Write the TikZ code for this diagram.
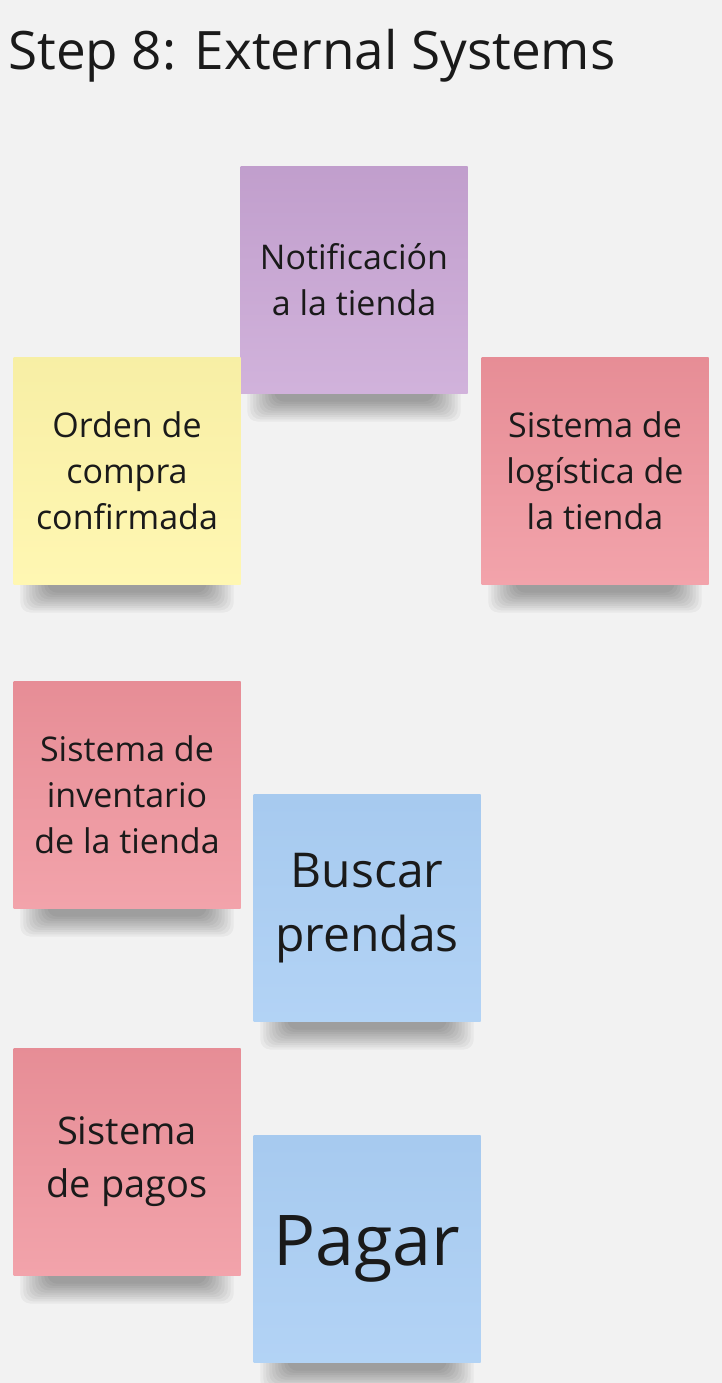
\documentclass[tikz,border=0pt]{standalone}
\usepackage{fontspec}
\setmainfont{Open Sans}
\usetikzlibrary{backgrounds}

\definecolor{paper}{HTML}{F2F2F2}
\definecolor{ink}{HTML}{1A1A1A}
\definecolor{lilac}{HTML}{C9A5D5}
\definecolor{lemon}{HTML}{FFF6AA}
\definecolor{rose}{HTML}{F0939C}
\definecolor{sky}{HTML}{AACEF4}

\begin{document}
\begin{tikzpicture}[x = 1pt, y = -1pt,
                      note/.style = {rectangle, minimum width = 227pt, minimum height = 227pt,
                                     inner sep = 0pt, align = center, text = ink,
                                     font = \fontsize{34}{46}\selectfont},
                      lilacnote/.style = {note, top color = lilac!96!black, bottom color = lilac!85!white},
                      lemonnote/.style = {note, top color = lemon!97!black, bottom color = lemon!90!white},
                      rosenote/.style = {note, top color = rose!96!black, bottom color = rose!85!white},
                      skynote/.style = {note, top color = sky!98!black, bottom color = sky!90!white},
                      shade/.style = {fill = black, opacity = 0.04, rounded corners = 10pt}]
    \useasboundingbox (0, 0) rectangle (722, 1383);
    \node [anchor = base west, text = ink, font = \fontsize{53}{60}\selectfont, inner sep = 0pt] (title) at (8, 70) {Step 8: External Systems};

    \node [lilacnote] (notif) at (354, 280) {Notificación\\a la tienda};
    \node [lemonnote] (orden) at (127, 471) {Orden de\\compra\\confirmada};
    \node [rosenote] (logistica) at (595, 471) {Sistema de\\logística de\\la tienda};
    \node [rosenote] (inventario) at (127, 795) {Sistema de\\inventario\\de la tienda};
    \node [skynote, font = \fontsize{48}{64}\selectfont] (buscar) at (367, 908) {Buscar\\prendas};
    \node [rosenote, font = \fontsize{38}{53}\selectfont] (pagos) at (127, 1162) {Sistema\\de pagos};
    \node [skynote, font = \fontsize{70}{80}\selectfont] (pagar) at (367, 1249) {Pagar};

    % paper and soft shadows under the notes
    \begin{scope}[on background layer]
        \fill [paper] (0, 0) rectangle (722, 1383);
        \foreach \n in {notif, orden, logistica, inventario, buscar, pagos, pagar}
            \foreach \k in {1, ..., 10}
                \fill [shade] ([xshift = {(4 + 3*\k)*1pt}, yshift = 10pt]\n.south west)
                    rectangle ([xshift = {(-4 - 3*\k)*1pt}, yshift = {(-30 + 2.2*\k)*1pt}]\n.south east);
    \end{scope}
\end{tikzpicture}
\end{document}
